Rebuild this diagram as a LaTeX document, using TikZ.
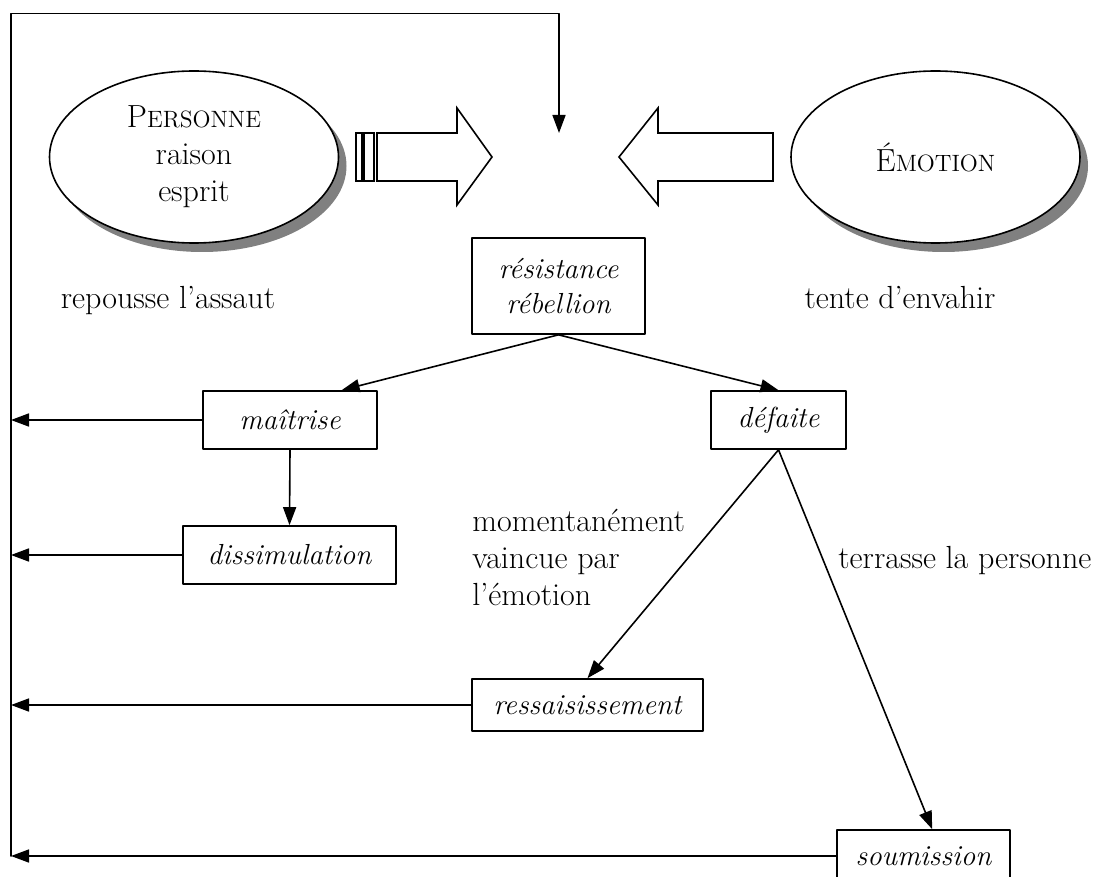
\documentclass[tikz,border=0pt]{standalone}
\usetikzlibrary{arrows.meta,shapes.geometric,shadows}

\tikzset{
  txt/.style={font=\fontsize{16}{18.5}\selectfont},
  etat/.style={draw, line width=0.8pt, inner sep=0pt, align=center,
    minimum height=29pt, font=\fontsize{14.5}{17.5}\selectfont\itshape},
  pole/.style={ellipse, draw, line width=0.8pt, fill=white, inner sep=0pt,
    minimum width=144.5pt, minimum height=86pt, align=center, txt,
    drop shadow={shadow xshift=4pt, shadow yshift=-4.5pt, fill=gray, opacity=1}},
  fleche/.style={-{Triangle[length=9pt,width=6.5pt]}, line width=0.8pt},
  bloc/.style={line width=0.8pt, line join=miter},
}
\newcommand{\petitescap}[2]{#1{\fontsize{11.8}{13}\selectfont #2}}

\begin{document}
\begin{tikzpicture}[x=0.5pt, y=-0.5pt, line cap=round, line join=round]
  \useasboundingbox (0,0) rectangle (1098,877);

  \node[pole] (personne) at (194,157) {\petitescap{P}{ERSONNE}\\raison\\esprit};
  \node[pole] (emotion) at (935.5,157) {\petitescap{É}{MOTION}};

  % grosses fleches
  \draw[bloc] (356,133) rectangle (362,181);
  \draw[bloc] (364,133) rectangle (374,181);
  \draw[bloc] (377,133) -- (457,133) -- (457,108) -- (492,157) -- (457,205) -- (457,181) -- (377,181) -- cycle;
  \draw[bloc] (773,133) -- (658,133) -- (658,108) -- (619,157) -- (658,205) -- (658,181) -- (773,181) -- cycle;

  \node[etat, minimum width=86.5pt, minimum height=48pt] (resistance) at (558.5,286) {résistance\\rébellion};
  \node[etat, minimum width=87pt] (maitrise) at (290,420) {maîtrise};
  \node[etat, minimum width=67.5pt] (defaite) at (778.5,420) {défaite};
  \node[etat, minimum width=106.5pt] (dissimulation) at (289.5,555) {dissimulation};
  \node[etat, minimum width=115.5pt, minimum height=26pt] (ressaisissement) at (587.5,705) {ressaisissement};
  \node[etat, minimum width=86.5pt, minimum height=26pt] (soumission) at (923.5,856) {soumission};

  \node[txt, anchor=base] (repousse) at (168,308) {repousse l’assaut};
  \node[txt, anchor=base] (tente) at (900,308) {tente d’envahir};
  \node[txt, anchor=base west, align=left, inner sep=0pt] (vaincue) at (472,605) {momentanément\\vaincue par\\l’émotion};
  \node[txt, anchor=base west, inner sep=0pt] (terrasse) at (838,568) {terrasse la personne};

  \coordinate (coin bas) at (11,856);
  \coordinate (coin haut) at (11,13.6);
  \coordinate (entree) at (559,133);
  \draw[fleche] (coin bas) -- (coin haut) -| (entree);

  \foreach \n in {maitrise,dissimulation,ressaisissement,soumission}
    \draw[fleche] (\n.west) -- (\n.west -| coin bas);

  \draw[fleche] (resistance.south) -- (maitrise.30);
  \draw[fleche] (resistance.south) -- (defaite.north);
  \draw[fleche] (maitrise.south) -- (dissimulation.north);
  \draw[fleche] (defaite.south) -- (ressaisissement.north);
  \draw[fleche] (defaite.south) -- (soumission.72);
\end{tikzpicture}
\end{document}
